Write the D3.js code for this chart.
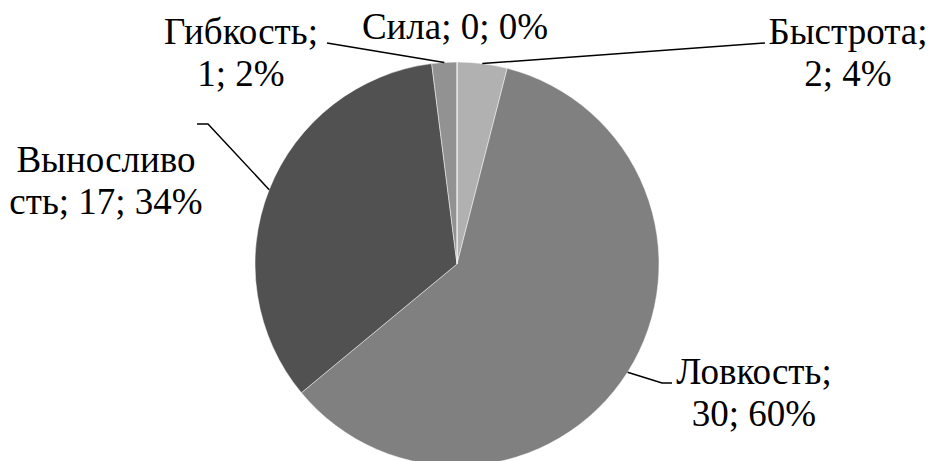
<!DOCTYPE html>
<html>
<head>
<meta charset="utf-8">
<script src="https://cdn.jsdelivr.net/npm/d3@7"></script>
<style>
  html, body { margin: 0; padding: 0; background: #fff; }
  svg { display: block; }
</style>
</head>
<body>
<svg id="chart" width="933" height="461"></svg>
<script>
// Physical qualities: counts and shares
const categories = ["Быстрота", "Ловкость", "Выносливость", "Гибкость", "Сила"];
const values = [2, 30, 17, 1, 0];
const percents = [4, 60, 34, 2, 0];
const colors = ["#b1b1b1", "#808080", "#515151", "#929292", "#c8c8c8"];

// Label text lines (as wrapped in the chart)
const labelLines = [
  ["Быстрота;", "2; 4%"],
  ["Ловкость;", "30; 60%"],
  ["Выносливо", "сть; 17; 34%"],
  ["Гибкость;", "1; 2%"],
  ["Сила; 0; 0%"]
];

// Label placement: text block centre and first baseline, plus leader line bend points
const labelLayout = [
  { cx: 848, y: 44, leader: [[765, 43]] },
  { cx: 754, y: 384, leader: [[662, 383], [672, 383]] },
  { cx: 106, y: 172, leader: [[208, 124], [197, 124]] },
  { cx: 241, y: 44, leader: [[327, 43]] },
  { cx: 455, y: 39, leader: null }
];

const fontFamily = "'Liberation Serif', Tinos, 'Times New Roman', 'DejaVu Serif', serif";
const fontSize = 37;
const lineGap = 42;

const svg = d3.select("#chart");
const cx = 457, cy = 264, radius = 202;

const pie = d3.pie().sort(null).value(d => d.value);
const data = categories.map((c, i) => ({ name: c, value: values[i], i }));
const arcs = pie(data);
const arc = d3.arc().innerRadius(0).outerRadius(radius);

const g = svg.append("g").attr("transform", `translate(${cx},${cy})`);

g.selectAll("path.slice")
  .data(arcs)
  .join("path")
  .attr("class", "slice")
  .attr("d", arc)
  .attr("fill", d => colors[d.data.i])
  .attr("stroke", "#ffffff")
  .attr("stroke-width", 0.8)
  .attr("stroke-opacity", 0.6);

// Leader lines start on the rim at each slice's middle angle
const line = d3.line();
arcs.forEach(a => {
  const lay = labelLayout[a.data.i];
  if (!lay.leader) return;
  const mid = (a.startAngle + a.endAngle) / 2;
  const start = [cx + radius * Math.sin(mid), cy - radius * Math.cos(mid)];
  svg.append("path")
    .attr("d", line([start, ...lay.leader]))
    .attr("fill", "none")
    .attr("stroke", "#000")
    .attr("stroke-width", 1.5);
});

// Data labels
arcs.forEach(a => {
  const lay = labelLayout[a.data.i];
  const t = svg.append("text")
    .attr("text-anchor", "middle")
    .attr("font-family", fontFamily)
    .style("font-family", fontFamily)
    .attr("font-size", fontSize)
    .attr("fill", "#000");
  labelLines[a.data.i].forEach((s, j) => {
    t.append("tspan")
      .attr("x", lay.cx)
      .attr("y", lay.y + j * lineGap)
      .text(s);
  });
});
</script>
</body>
</html>
